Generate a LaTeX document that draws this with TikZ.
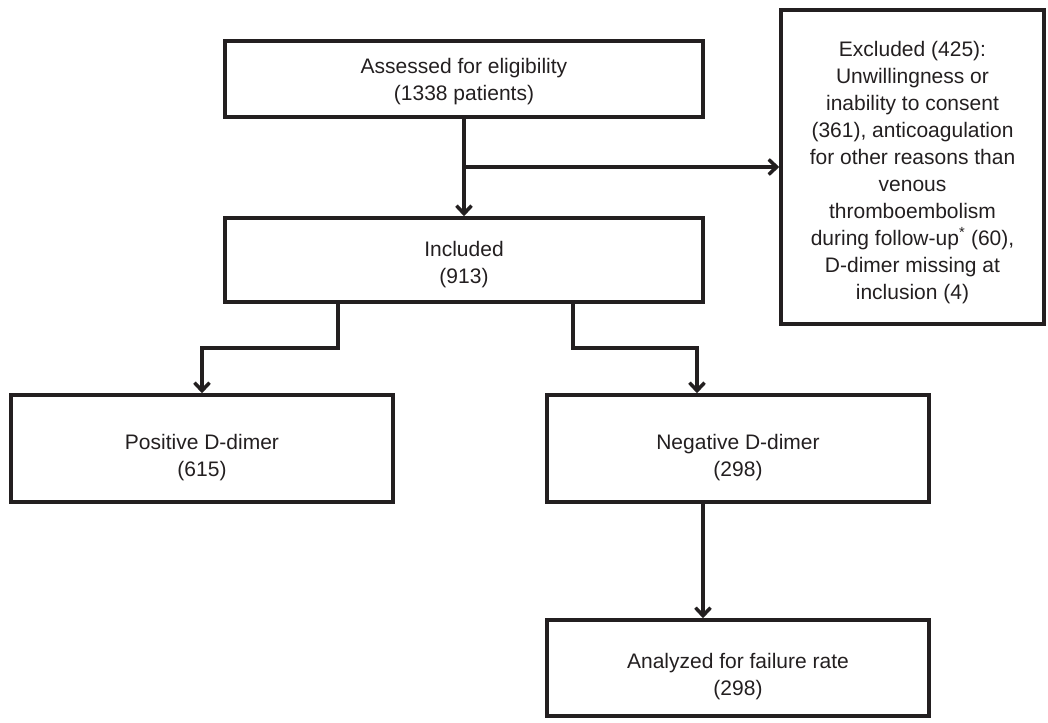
\documentclass[tikz,border=0pt]{standalone}
\usepackage{fontspec}
\setmainfont{Liberation Sans}
\usetikzlibrary{arrows.meta}
\definecolor{ink}{HTML}{231F20}
\begin{document}
\begin{tikzpicture}[x=1pt,y=-1pt,
  box/.style={draw=ink,line width=3.5pt,rectangle,inner sep=0pt},
  txt/.style={align=center,inner sep=0pt,text=ink,font=\fontsize{21}{27}\selectfont},
  conn/.style={draw=ink,line width=3.5pt},
  arr/.style={conn,-{Straight Barb[length=8pt,width=15pt,line width=3.5pt]}}]
\useasboundingbox (0,0) rectangle (1048,722);
\node[box,minimum width=478pt,minimum height=76pt] (assessed) at (464,79) {};
\node[txt] (assessed-t) at ([yshift=-2.5pt]assessed.center) {Assessed for eligibility\\(1338 patients)};
\node[box,minimum width=478pt,minimum height=84pt] (included) at (464,260) {};
\node[txt] (included-t) at ([yshift=-5pt]included.center) {Included\\(913)};
\node[box,minimum width=263pt,minimum height=314pt] (excluded) at (912.5,167) {};
\node[txt] (excluded-t) at ([yshift=-5.5pt]excluded.center)
  {Excluded (425):\\Unwillingness or\\inability to consent\\(361), anticoagulation\\for other reasons than\\venous\\thromboembolism\\during follow-up\textsuperscript{*} (60),\\D-dimer missing at\\inclusion (4)};
\node[box,minimum width=382pt,minimum height=107pt] (positive) at (202,448.5) {};
\node[txt] (positive-t) at ([yshift=-9.5pt]positive.center) {Positive D-dimer\\(615)};
\node[box,minimum width=382pt,minimum height=107pt] (negative) at (738,448.5) {};
\node[txt] (negative-t) at ([yshift=-9.5pt]negative.center) {Negative D-dimer\\(298)};
\node[box,minimum width=382pt,minimum height=96pt] (analyzed) at (738,668) {};
\node[txt] (analyzed-t) at ([yshift=-9pt]analyzed.center) {Analyzed for failure rate\\(298)};
\coordinate (br) at (464,167);
\coordinate (ls) at (338,348);
\coordinate (rs) at (573,348);
\coordinate (rt) at (697,348);
\coordinate (ax) at (703,560);
\draw[arr] (assessed.south) -- (included.north);
\draw[arr] (br) -- (excluded.west);
\draw[arr] (included.south -| ls) -- (ls) -| (positive.north);
\draw[arr] (included.south -| rs) -- (rs) -- (rt) -- (negative.north -| rt);
\draw[arr] (negative.south -| ax) -- (analyzed.north -| ax);
\end{tikzpicture}
\end{document}
